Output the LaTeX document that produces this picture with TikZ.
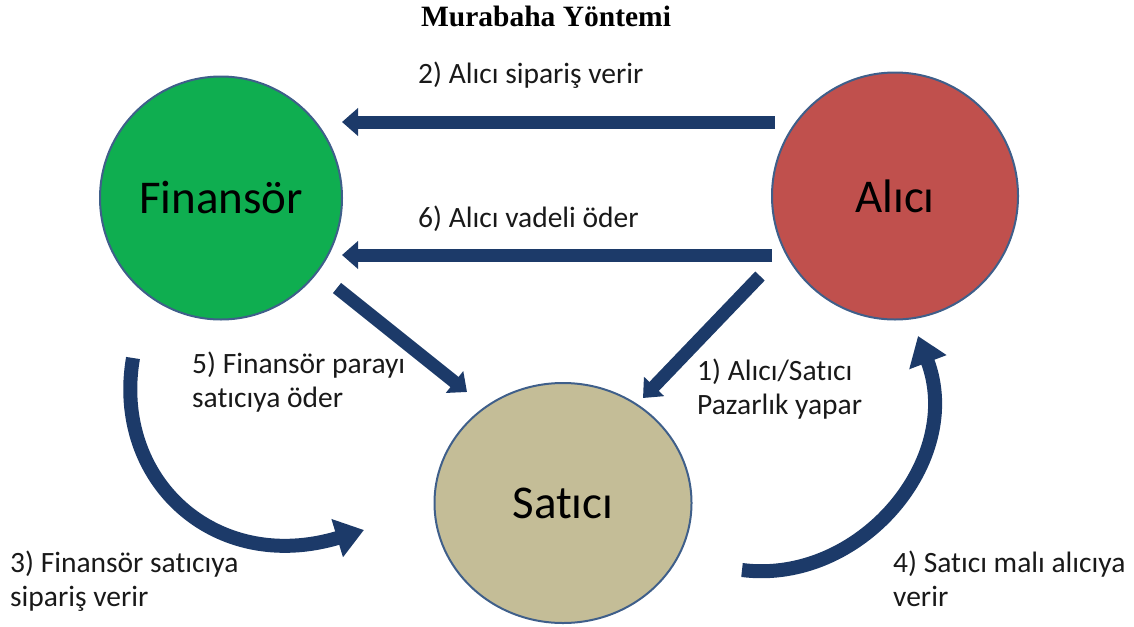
\documentclass[tikz,border=0pt]{standalone}
\usepackage{fontspec}
\setmainfont{Carlito}[Ligatures={NoCommon,NoContextual}]
\newfontfamily\titlefont{Liberation Serif}
\usetikzlibrary{shapes.geometric,arrows.meta}
\definecolor{fingreen}{HTML}{0FAE50}
\definecolor{alired}{HTML}{C0504D}
\definecolor{sattan}{HTML}{C4BD97}
\definecolor{rim}{HTML}{3F5F8A}
\definecolor{arrowblue}{HTML}{1C3A69}

\begin{document}
\begin{tikzpicture}[x=1pt, y=-1pt,
    party/.style={ellipse, draw=rim, line width=2pt, inner sep=0pt, font=\fontsize{47}{56}\selectfont},
    flow/.style={arrowblue, line width=13pt, -{Triangle[width=27pt,length=16pt]}},
    curvy/.style={arrowblue, line width=14pt, -{Triangle[width=38pt,length=28pt]}},
    note/.style={anchor=base west, inner sep=0pt, text=black!90, font=\fontsize{29.5}{34}\selectfont},
]
\useasboundingbox (0,0) rectangle (1134,626);

\node[anchor=base, inner sep=0pt, font=\titlefont\bfseries\fontsize{29.5}{34}\selectfont] (title) at (546,27) {Murabaha Yöntemi};

% the three parties
\node[party, fill=fingreen, minimum width=242pt, minimum height=243pt] (finnode) at (221,198) {Finansör};
\node[party, fill=alired, minimum width=246pt, minimum height=247pt] (alicinode) at (895,196) {Alıcı};
\node[party, fill=sattan, minimum width=257pt, minimum height=240pt] (saticinode) at (563,503) {Satıcı};

% arrow ends
\coordinate (t2) at (775,122);
\coordinate (h2) at (342,122);
\coordinate (t6) at (772,255);
\coordinate (h6) at (342,255);
\coordinate (t5) at (337,288);
\coordinate (h5) at (467,392);
\coordinate (t1) at (760,276);
\coordinate (h1) at (643,398);
\coordinate (t3) at (133,358);
\coordinate (h3) at (364,530);
\coordinate (t4) at (742,570);
\coordinate (h4) at (918,336);

\draw[flow] (t2) -- (h2);
\draw[flow] (t6) -- (h6);
\draw[flow] (t5) -- (h5);
\draw[flow] (t1) -- (h1);
\draw[curvy] (t3) .. controls (112,480) and (215,575) .. (h3);
\draw[curvy] (t4) .. controls (860,585) and (965,460) .. (h4);

% steps
\node[note] (s2) at (418,83) {2) Alıcı sipariş verir};
\node[note] (s6) at (418,227) {6) Alıcı vadeli öder};
\node[note] (s5) at (192,373) {\begin{tabular}[t]{@{}l@{}} 5) Finansör parayı \\ satıcıya öder \end{tabular}};
\node[note] (s1) at (697,380) {\begin{tabular}[t]{@{}l@{}} 1) Alıcı/Satıcı \\ Pazarlık yapar \end{tabular}};
\node[note] (s3) at (10,572) {\begin{tabular}[t]{@{}l@{}} 3) Finansör satıcıya \\ sipariş verir \end{tabular}};
\node[note] (s4) at (893,572) {\begin{tabular}[t]{@{}l@{}} 4) Satıcı malı alıcıya \\ verir \end{tabular}};
\end{tikzpicture}
\end{document}
